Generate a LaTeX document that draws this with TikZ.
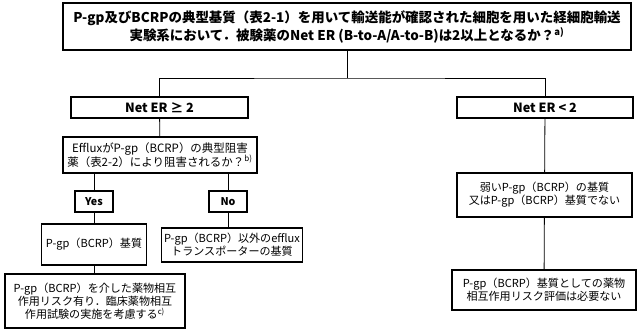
\documentclass[tikz,border=0pt]{standalone}
\usepackage{fontspec}
\setmainfont{Noto Sans CJK JP}
\usepackage{tikz}

\tikzset{
  flowbox/.style={draw, line width=0.8pt, align=center, inner sep=1pt,
    font=\fontsize{8.3}{9.6}\selectfont},
  headbox/.style={flowbox, font=\bfseries\fontsize{10.1}{13.5}\selectfont},
  erbox/.style={flowbox, font=\bfseries\fontsize{9.5}{11}\selectfont},
  answerbox/.style={flowbox, font=\bfseries\fontsize{8}{9}\selectfont},
  link/.style={line width=0.6pt}
}

\begin{document}
\begin{tikzpicture}[x=0.75pt,y=0.75pt,yscale=-1,xscale=1]
        \useasboundingbox (0,0) rectangle (639,332);

        % question at the top
        \node [headbox, minimum width=426pt, minimum height=35.25pt] (question) at (347,26.5)
          {P-gp及びBCRPの典型基質（表2-1）を用いて輸送能が確認された細胞を用いた経細胞輸送\\
           実験系において．被験薬のNet ER (B-to-A/A-to-B)は2以上となるか？\textsuperscript{a)}};

        % Net ER branches
        \node [erbox, minimum width=132.75pt, minimum height=15.75pt] (erhigh) at (159.5,107.5) {Net ER ≥ 2};
        \node [erbox, minimum width=132pt, minimum height=15.75pt] (erlow) at (545,107.5) {Net ER < 2};

        % inhibition question
        \node [flowbox, minimum width=145.5pt, minimum height=27pt, font=\fontsize{8.6}{11}\selectfont] (inhib) at (160,155)
          {EffluxがP-gp（BCRP）の典型阻害\\薬（表2-2）により阻害されるか？\textsuperscript{b)}};

        % yes / no
        \node [answerbox, minimum width=28.5pt, minimum height=15.75pt] (yes) at (94,201.5) {Yes};
        \node [answerbox, minimum width=28.5pt, minimum height=15.75pt] (no) at (228,201.5) {No};

        % results
        \node [flowbox, minimum width=78.75pt, minimum height=30.75pt] (substrate) at (94,244.5) {P-gp（BCRP）基質};
        \node [flowbox, minimum width=135pt, minimum height=40.5pt] (risk) at (95,301)
          {P-gp（BCRP）を介した薬物相互\\作用リスク有り．臨床薬物相互\\作用試験の実施を考慮する\textsuperscript{c)}};
        \node [flowbox, minimum width=105.75pt, minimum height=25.5pt] (other) at (232,245)
          {P-gp（BCRP）以外のefflux\\トランスポーターの基質};
        \node [flowbox, minimum width=131.25pt, minimum height=33pt] (weak) at (544.5,195)
          {弱いP-gp（BCRP）の基質\\又はP-gp（BCRP）基質でない};
        \node [flowbox, minimum width=138pt, minimum height=30pt] (noneed) at (544,290)
          {P-gp（BCRP）基質としての薬物\\相互作用リスク評価は必要ない};

        % connectors
        \coordinate (fork) at (347,78);
        \draw [link] (question) -- (fork);
        \draw [link] (erhigh.north) |- (fork) -| (erlow.north);
        \draw [link] (erhigh) -- (inhib);
        \draw [link] (yes.north |- inhib.south) -- (yes);
        \draw [link] (no.north |- inhib.south) -- (no);
        \draw [link] (yes) -- (substrate);
        \draw [link] (substrate.south) -- (substrate.south |- risk.north);
        \draw [link] (no) -- (no |- other.north);
        \draw [link] (erlow) -- (weak);
        \draw [link] (weak) -- (noneed);

    \end{tikzpicture}
\end{document}
